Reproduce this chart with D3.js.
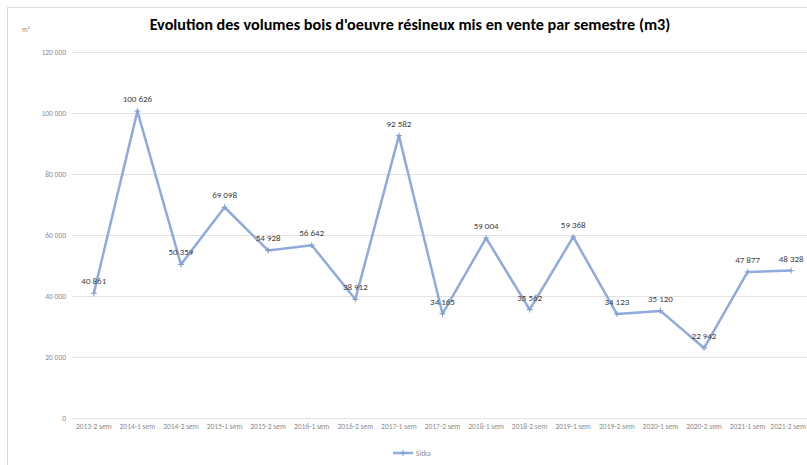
<!DOCTYPE html>
<html><head><meta charset="utf-8">
<script src="https://cdn.jsdelivr.net/npm/d3@7"></script>
<style>body{margin:0;background:#fff;overflow:hidden}svg{display:block}</style>
</head><body>
<svg id="c" width="807" height="465"></svg>
<script>
const categories = ["2013-2 sem","2014-1 sem","2014-2 sem","2015-1 sem","2015-2 sem","2016-1 sem","2016-2 sem","2017-1 sem","2017-2 sem","2018-1 sem","2018-2 sem","2019-1 sem","2019-2 sem","2020-1 sem","2020-2 sem","2021-1 sem","2021-2 sem"];
const sitka = [40861,100626,50359,69098,54928,56642,38912,92582,34165,59004,35562,59368,34123,35120,22942,47877,48328];
const yTicks = [0,20000,40000,60000,80000,100000,120000];
const seriesName = "Sitka";
const title = "Evolution des volumes bois d'oeuvre résineux mis en vente par semestre (m3)";

const svg = d3.select("#c");
const font = "Calibri, Carlito, 'Liberation Sans Narrow', 'Open Sans', sans-serif";
const fmt = v => d3.format(",")(v).replace(/,/g, " ");
const plus = "M-3,0H3M0,-3V3";

// chart frame
svg.append("rect").attr("x",7.5).attr("y",7.5).attr("width",830).attr("height",470)
  .attr("fill","none").attr("stroke","#d9d9d9");

const x = d3.scaleBand().domain(categories).range([72, 813]);
const y = d3.scaleLinear().domain([0,120000]).range([418, 52]);

// grid
svg.append("g").selectAll("line").data(yTicks).join("line")
  .attr("x1",72).attr("x2",813).attr("y1",d=>Math.round(y(d))+0.5).attr("y2",d=>Math.round(y(d))+0.5)
  .attr("stroke","#e3e3e3").attr("stroke-width",1);

// y axis labels
const ya = svg.append("g").attr("transform","translate(66,0)")
  .call(d3.axisLeft(y).tickValues(yTicks).tickSize(0).tickPadding(0).tickFormat(fmt));
ya.select(".domain").remove();
ya.selectAll("text").attr("fill","#8c8c8c").style("font-family",font).style("font-size","7.5px");

// x axis labels
const xa = svg.append("g").attr("transform","translate(0,424)")
  .call(d3.axisBottom(x).tickSize(0).tickPadding(0));
xa.select(".domain").remove();
xa.selectAll("text").attr("fill","#8c8c8c").style("font-family",font).style("font-size","7.5px");
// keep last label inside the window
xa.selectAll(".tick").filter((d,i,n)=>i===n.length-1).select("text")
  .attr("text-anchor","end").attr("x", 806 - (x(categories[categories.length-1]) + x.bandwidth()/2));

// line
const cx = d => x(d) + x.bandwidth()/2;
const data = categories.map((c,i)=>({c, v:sitka[i]}));
svg.append("path").datum(data)
  .attr("fill","none").attr("stroke","#8faadc").attr("stroke-width",2.5).attr("stroke-linejoin","round")
  .attr("d", d3.line().x(d=>cx(d.c)).y(d=>y(d.v)));

// markers
svg.append("g").selectAll("path").data(data).join("path")
  .attr("transform",d=>`translate(${cx(d.c)},${y(d.v)})`)
  .attr("d", plus)
  .attr("fill","none").attr("stroke","#7f9ccf").attr("stroke-width",1);

// data labels
svg.append("g").selectAll("text").data(data).join("text")
  .attr("x",d=>cx(d.c)).attr("y",d=>y(d.v)-9)
  .attr("text-anchor","middle").attr("fill","#404040")
  .style("font-family",font).style("font-size","9px")
  .text(d=>fmt(d.v));

// title
svg.append("text").attr("x",410).attr("y",30).attr("text-anchor","middle")
  .attr("fill","#000").style("font-family",font).style("font-size","16.2px").style("font-weight","bold")
  .text(title);

// unit
svg.append("text").attr("x",22).attr("y",32).attr("fill","#8c8c8c")
  .style("font-family",font).style("font-size","7px").text("m³");

// legend
svg.append("line").attr("x1",393).attr("x2",413).attr("y1",453).attr("y2",453)
  .attr("stroke","#8faadc").attr("stroke-width",2.5);
svg.append("path").attr("transform","translate(403,453)").attr("d", plus)
  .attr("fill","none").attr("stroke","#7f9ccf").attr("stroke-width",1);
svg.append("text").attr("x",416).attr("y",456).attr("fill","#8c8c8c")
  .style("font-family",font).style("font-size","7.5px").text(seriesName);
</script>
</body></html>
